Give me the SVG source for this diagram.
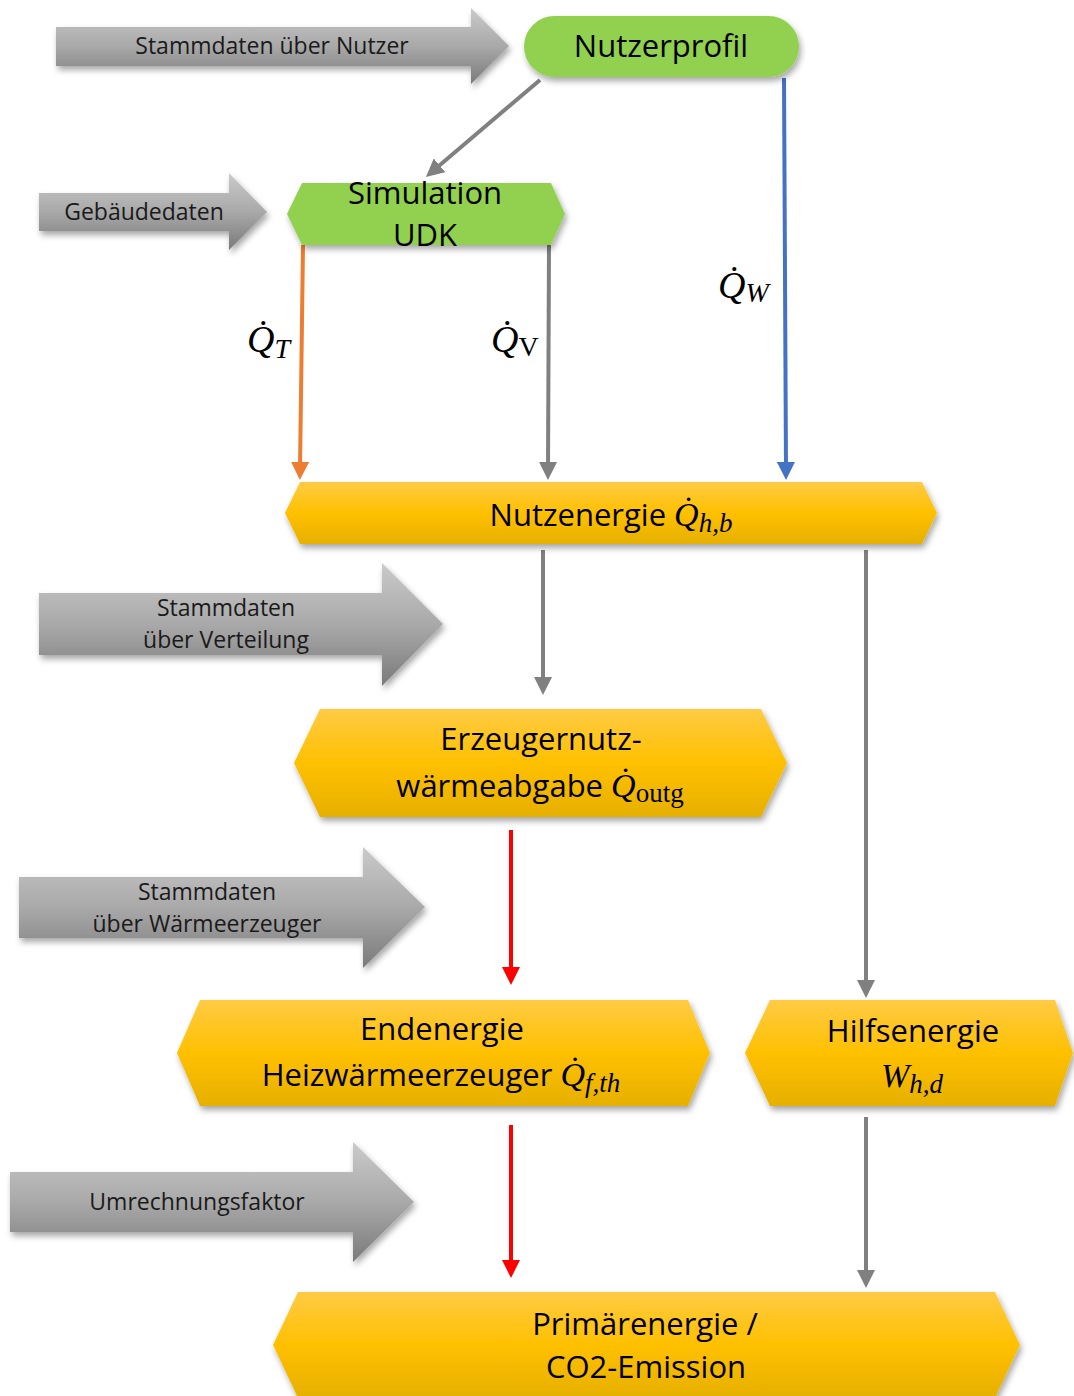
<svg xmlns="http://www.w3.org/2000/svg" width="1074" height="1396" viewBox="0 0 1074 1396">
<defs>
<linearGradient id="gGray" x1="0" y1="0" x2="0" y2="1">
<stop offset="0" stop-color="#CACACA"/>
<stop offset="0.5" stop-color="#A9A9A9"/>
<stop offset="1" stop-color="#7A7A7A"/>
</linearGradient>
<linearGradient id="gGold" x1="0" y1="0" x2="0" y2="1">
<stop offset="0" stop-color="#FFCB45"/>
<stop offset="0.5" stop-color="#FFC000"/>
<stop offset="1" stop-color="#E6B000"/>
</linearGradient>
<filter id="sh" x="-10%" y="-20%" width="120%" height="150%">
<feDropShadow dx="2" dy="4" stdDeviation="3" flood-color="#000" flood-opacity="0.35"/>
</filter>
<marker id="mGray" markerUnits="userSpaceOnUse" markerWidth="18" markerHeight="18" refX="8" refY="9" orient="auto"><path d="M0,0 L18,9 L0,18 z" fill="#808080"/></marker>
<marker id="mOrange" markerUnits="userSpaceOnUse" markerWidth="18" markerHeight="18" refX="8" refY="9" orient="auto"><path d="M0,0 L18,9 L0,18 z" fill="#ED7D31"/></marker>
<marker id="mBlue" markerUnits="userSpaceOnUse" markerWidth="18" markerHeight="18" refX="8" refY="9" orient="auto"><path d="M0,0 L18,9 L0,18 z" fill="#4472C4"/></marker>
<marker id="mRed" markerUnits="userSpaceOnUse" markerWidth="18" markerHeight="18" refX="8" refY="9" orient="auto"><path d="M0,0 L18,9 L0,18 z" fill="#FF0000"/></marker>
</defs>
<style>
.side{fill:url(#gGray);filter:url(#sh)}
.green{fill:#92D050;filter:url(#sh)}
.gold{fill:url(#gGold);filter:url(#sh)}
.st{font-family:"Open Sans","Noto Sans",sans-serif;font-size:23px;fill:#1a1a1a;text-anchor:middle}
.nt{font-family:"Open Sans","Noto Sans",sans-serif;font-size:31px;fill:#000;text-anchor:middle}
.m{font-family:"Liberation Serif","DejaVu Serif",serif;font-style:italic;fill:#000}
.up{font-style:normal}
.c{fill:none;stroke-width:4}
</style>

<g id="connectors">
<line class="c" x1="540" y1="80" x2="433.5" y2="170.5" stroke="#808080" stroke-width="5" marker-end="url(#mGray)"/>
<line class="c" x1="303" y1="245" x2="300" y2="470" stroke="#ED7D31" marker-end="url(#mOrange)"/>
<line class="c" x1="549" y1="245" x2="548" y2="470" stroke="#808080" marker-end="url(#mGray)"/>
<line class="c" x1="784" y1="78" x2="786" y2="470" stroke="#4472C4" marker-end="url(#mBlue)"/>
<line class="c" x1="543" y1="550" x2="543" y2="685" stroke="#808080" marker-end="url(#mGray)"/>
<line class="c" x1="866" y1="550" x2="866" y2="988" stroke="#808080" marker-end="url(#mGray)"/>
<line class="c" x1="511" y1="830" x2="511" y2="975" stroke="#FF0000" stroke-width="5" marker-end="url(#mRed)"/>
<line class="c" x1="511" y1="1125" x2="511" y2="1268" stroke="#FF0000" stroke-width="5" marker-end="url(#mRed)"/>
<line class="c" x1="866" y1="1117" x2="866" y2="1278" stroke="#808080" marker-end="url(#mGray)"/>
<text class="m" x="247" y="352" font-size="38">Q̇<tspan font-size="28" dy="6">T</tspan></text>
<text class="m" x="491" y="352" font-size="38">Q̇<tspan class="up" font-size="28" dy="4">V</tspan></text>
<text class="m" x="718" y="298" font-size="38">Q̇<tspan font-size="28" dy="4">W</tspan></text>
</g>

<g id="in-nutzer">
<polygon class="side" points="56,27 471,27 471,8 509,46 471,84 471,66 56,66"/>
<text class="st" x="272" y="54">Stammdaten über Nutzer</text>
</g>
<g id="in-gebaeude">
<polygon class="side" points="39,193 229,193 229,173 267,212 229,250 229,231 39,231"/>
<text class="st" x="144" y="220">Gebäudedaten</text>
</g>
<g id="in-verteilung">
<polygon class="side" points="39,593 382,593 382,563 443,624 382,686 382,655 39,655"/>
<text class="st" x="226" y="616">Stammdaten</text>
<text class="st" x="226" y="648">über Verteilung</text>
</g>
<g id="in-erzeuger">
<polygon class="side" points="19,877 363,877 363,847 425,907 363,968 363,938 19,938"/>
<text class="st" x="207" y="900">Stammdaten</text>
<text class="st" x="207" y="932">über Wärmeerzeuger</text>
</g>
<g id="in-faktor">
<polygon class="side" points="10,1172 353,1172 353,1142 414,1202 353,1262 353,1232 10,1232"/>
<text class="st" x="197" y="1210">Umrechnungsfaktor</text>
</g>

<g id="nutzerprofil">
<rect class="green" x="524" y="16" width="275" height="61" rx="30.5"/>
<text class="nt" x="661" y="57">Nutzerprofil</text>
</g>
<g id="simulation">
<polygon class="green" points="302,183 551,183 565,214 551,245 302,245 287,214"/>
<text class="nt" x="425" y="204">Simulation</text>
<text class="nt" x="425" y="246">UDK</text>
</g>
<g id="nutzenergie">
<polygon class="gold" points="300,482 922,482 937,513 922,544 300,544 285,513"/>
<text class="nt" x="611" y="526">Nutzenergie <tspan class="m" font-size="34">Q̇</tspan><tspan class="m" font-size="27" dy="6">h,b</tspan></text>
</g>
<g id="erzeuger">
<polygon class="gold" points="320,709 761,709 787,763 761,817 320,817 294,763"/>
<text class="nt" x="541" y="750">Erzeugernutz-</text>
<text class="nt" x="540" y="797">wärmeabgabe <tspan class="m" font-size="34">Q̇</tspan><tspan class="m up" font-size="27" dy="5">outg</tspan></text>
</g>
<g id="endenergie">
<polygon class="gold" points="200,1000 688,1000 710,1053 688,1106 200,1106 177,1053"/>
<text class="nt" x="442" y="1040">Endenergie</text>
<text class="nt" x="441" y="1086">Heizwärmeerzeuger <tspan class="m" font-size="34">Q̇</tspan><tspan class="m" font-size="27" dy="6">f,th</tspan></text>
</g>
<g id="hilfsenergie">
<polygon class="gold" points="770,1000 1055,1000 1073,1053 1055,1106 770,1106 745,1053"/>
<text class="nt" x="913" y="1042">Hilfsenergie</text>
<text class="m" x="912" y="1087" font-size="34" text-anchor="middle">W<tspan font-size="27" dy="6">h,d</tspan></text>
</g>
<g id="primaer">
<polygon class="gold" points="298,1292 995,1292 1020,1345 995,1398 298,1398 273,1345"/>
<text class="nt" x="645" y="1335">Primärenergie /</text>
<text class="nt" x="646" y="1378">CO2-Emission</text>
</g>
</svg>
